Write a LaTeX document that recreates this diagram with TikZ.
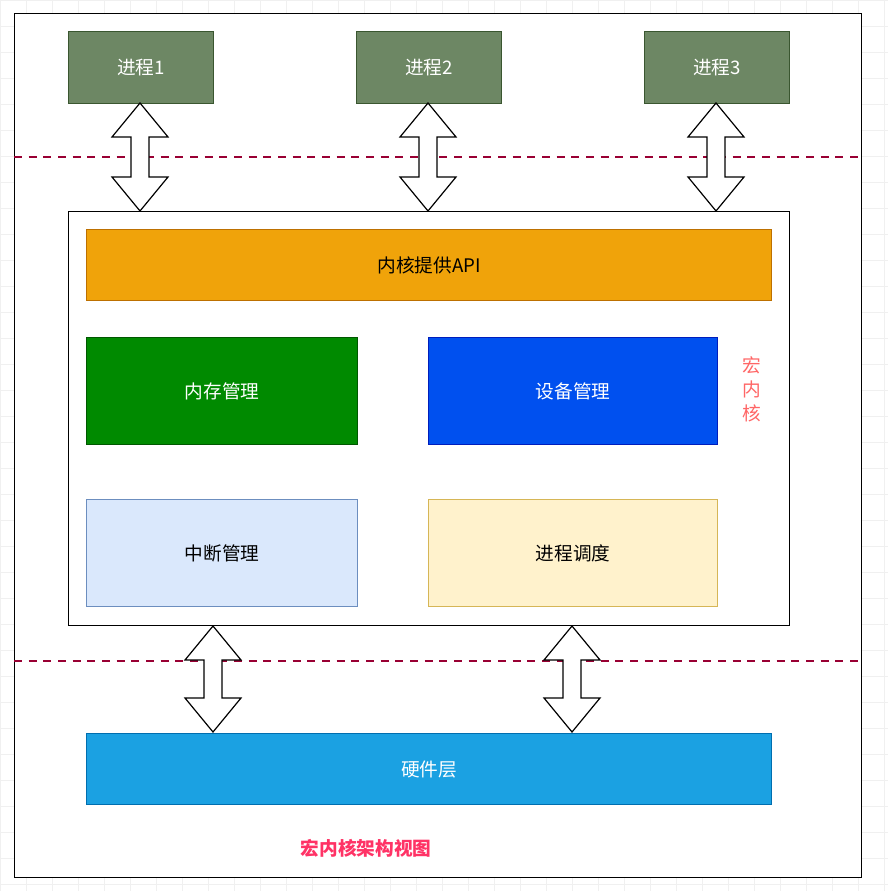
\documentclass[tikz,border=0pt]{standalone}
\usepackage{fontspec}
\setmainfont{Noto Sans CJK SC}
\begin{document}
\begin{tikzpicture}[x=0.75pt,y=-0.75pt,
  box/.style={draw,line width=0.9pt,font=\fontsize{14}{16}\selectfont,inner sep=0pt},
  darrow/.style={draw=black,line width=0.9pt,fill=white,line join=miter},
  sep/.style={draw=purple!80!black,dashed,dash pattern=on 6pt off 5pt,line width=0.8pt}]
\newcommand{\dblarr}[3]{%
  \path[darrow] (#1,#2) -- (#1+28,#2+34) -- (#1+9,#2+34) -- (#1+9,#3-34) -- (#1+28,#3-34) -- (#1,#3)
   -- (#1-28,#3-34) -- (#1-9,#3-34) -- (#1-9,#2+34) -- (#1-28,#2+34) -- cycle;}
\useasboundingbox (0,0) rectangle (888,891);
\foreach \i in {0,26,...,888} {\draw[black!6] (\i,0) -- (\i,891); \draw[black!6] (0,\i) -- (888,\i);}
\node[draw,line width=1pt,fill=white,minimum width=847*0.75pt,minimum height=864*0.75pt,anchor=north west] (outer) at (14,13) {};
\path[sep] (14,157) -- (861,157);
\path[sep] (14,661) -- (861,661);
\foreach \n/\x/\t in {p1/68/进程1,p2/356/进程2,p3/644/进程3}
  \node[box,fill=green!10!black!50!green!40!gray,fill={rgb,255:red,109;green,135;blue,100},draw={rgb,255:red,58;green,86;blue,48},text=white,minimum width=145*0.75pt,minimum height=72*0.75pt,anchor=north west] (\n) at (\x,31) {\t};
\node[box,draw=black,minimum width=721*0.75pt,minimum height=414*0.75pt,anchor=north west,fill=white] (kernel) at (68,211) {};
\node[box,fill={rgb,255:red,240;green,163;blue,10},draw={rgb,255:red,189;green,112;blue,0},minimum width=685*0.75pt,minimum height=71*0.75pt,anchor=north west] (api) at (86,229) {内核提供API};
\node[box,fill={rgb,255:red,0;green,138;blue,0},draw={rgb,255:red,0;green,87;blue,0},text=white,minimum width=271*0.75pt,minimum height=107*0.75pt,anchor=north west] (mem) at (86,337) {内存管理};
\node[box,fill={rgb,255:red,0;green,80;blue,239},draw={rgb,255:red,0;green,29;blue,188},text=white,minimum width=289*0.75pt,minimum height=107*0.75pt,anchor=north west] (dev) at (428,337) {设备管理};
\node[box,fill={rgb,255:red,218;green,232;blue,252},draw={rgb,255:red,108;green,142;blue,191},minimum width=271*0.75pt,minimum height=107*0.75pt,anchor=north west] (int) at (86,499) {中断管理};
\node[box,fill={rgb,255:red,255;green,242;blue,204},draw={rgb,255:red,214;green,182;blue,86},minimum width=289*0.75pt,minimum height=107*0.75pt,anchor=north west] (sch) at (428,499) {进程调度};
\node[box,fill={rgb,255:red,27;green,161;blue,226},draw={rgb,255:red,0;green,110;blue,175},text=white,minimum width=685*0.75pt,minimum height=71*0.75pt,anchor=north west] (hw) at (86,733) {硬件层};
\node[text={rgb,255:red,255;green,102;blue,102},font=\fontsize{14}{18}\selectfont,align=center] (lbl) at (752,389) {宏\\内\\核};
\node[text={rgb,255:red,255;green,51;blue,102},font=\fontsize{14}{16}\selectfont\bfseries] (title) at (366,848) {宏内核架构视图};
\dblarr{140}{103}{211}
\dblarr{428}{103}{211}
\dblarr{716}{103}{211}
\dblarr{213}{626}{732}
\dblarr{572}{626}{732}
\end{tikzpicture}
\end{document}
